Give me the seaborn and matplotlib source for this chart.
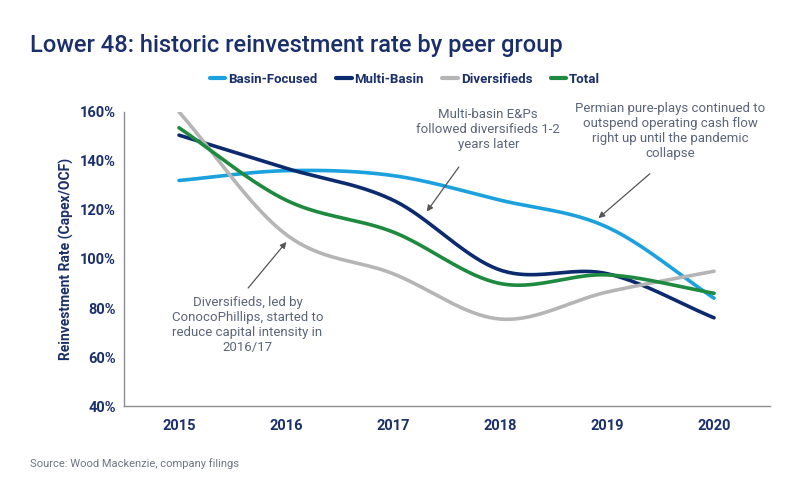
# reinvestment rate by peer group, lower 48 - smoothed lines like the excel original

import matplotlib
matplotlib.use("Agg")
import matplotlib.pyplot as plt
import seaborn as sns
import pandas as pd
import numpy as np

years = [2015, 2016, 2017, 2018, 2019, 2020]
basin_focused = [132, 136, 134, 124, 113, 84]
multi_basin = [150.5, 137, 124, 95.5, 94, 76]
diversifieds = [160, 110, 94, 75.5, 86.5, 95]
total = [153.5, 124, 111, 90, 93.5, 86]

series_names = ["Basin-Focused", "Multi-Basin", "Diversifieds", "Total"]
colors = ["#1ba1de", "#0c2a6e", "#b5b5b5", "#1d8a3f"]
y_ticks = [40, 60, 80, 100, 120, 140, 160]


def smooth(xs, ys, n=40):
    # catmull-rom so the curve passes through every point (like excel smoothing)
    xs = np.asarray(xs, float)
    ys = np.asarray(ys, float)
    px = np.concatenate([[2 * xs[0] - xs[1]], xs, [2 * xs[-1] - xs[-2]]])
    py = np.concatenate([[2 * ys[0] - ys[1]], ys, [2 * ys[-1] - ys[-2]]])
    out_x, out_y = [], []
    t = np.linspace(0, 1, n)
    for i in range(1, len(px) - 2):
        for arr, out in ((px, out_x), (py, out_y)):
            p0, p1, p2, p3 = arr[i - 1], arr[i], arr[i + 1], arr[i + 2]
            out.extend(0.5 * ((2 * p1) + (-p0 + p2) * t
                              + (2 * p0 - 5 * p1 + 4 * p2 - p3) * t ** 2
                              + (-p0 + 3 * p1 - 3 * p2 + p3) * t ** 3))
    return out_x, out_y


frames = []
for name, vals in zip(series_names, [basin_focused, multi_basin, diversifieds, total]):
    sx, sy = smooth(years, vals)
    frames.append(pd.DataFrame({"year": sx, "rate": sy, "group": name}))
df = pd.concat(frames, ignore_index=True)

sns.set_style("white")
plt.rcParams["font.family"] = ["Roboto", "DejaVu Sans"]

navy = "#1b2f6b"
note = "#5b6579"

fig = plt.figure(figsize=(8, 4.8), dpi=100)
ax = fig.add_axes([0.155, 0.154, 0.8075, 0.613])

sns.lineplot(data=df, x="year", y="rate", hue="group", palette=colors,
             hue_order=series_names, linewidth=2.6, sort=False,
             estimator=None, ax=ax, legend=False)

ax.set_xlim(2014.486, 2020.523)
ax.set_ylim(40, 160)
ax.set_xticks(years)
ax.set_xticklabels([str(y) for y in years])
ax.set_yticks(y_ticks)
ax.set_yticklabels([f"{v}%" for v in y_ticks])
ax.tick_params(axis="both", length=0, labelsize=10.5, labelcolor=navy, pad=6)
ax.tick_params(axis="x", pad=9)
for lab in ax.get_xticklabels() + ax.get_yticklabels():
    lab.set_fontweight("bold")
ax.set_xlabel("")
ax.set_ylabel("Reinvestment Rate (Capex/OCF)", color=navy, fontsize=10,
              fontweight="bold", labelpad=4)
for side in ["top", "right"]:
    ax.spines[side].set_visible(False)
for side in ["left", "bottom"]:
    ax.spines[side].set_color("#8c8c8c")
    ax.spines[side].set_linewidth(1)

# legend
handles = [plt.Line2D([], [], color=c, lw=3) for c in colors]
fig.legend(handles, series_names, loc="center", bbox_to_anchor=(0.506, 0.835),
           ncol=4, frameon=False, handlelength=1.2, handletextpad=0.2,
           columnspacing=1.4, prop={"size": 9.5, "weight": "bold"},
           labelcolor=navy)

# annotations
arrow = dict(arrowstyle="-|>", color="#555555", lw=0.9, mutation_scale=9)
ax.annotate("", xy=(2017.30, 118.4), xytext=(2017.63, 138.4), arrowprops=arrow)
ax.text(2017.89, 152.6, "Multi-basin E&Ps\nfollowed diversifieds 1-2\nyears later",
        ha="center", va="center", fontsize=9.5, color=note, linespacing=1.2)

ax.annotate("", xy=(2018.90, 115.9), xytext=(2019.42, 135.5), arrowprops=arrow)
ax.text(2019.59, 152.2, "Permian pure-plays continued to\noutspend operating cash flow\n"
        "right up until the pandemic\ncollapse",
        ha="center", va="center", fontsize=9.5, color=note, linespacing=1.2,
        clip_on=False)

ax.annotate("", xy=(2016.02, 107.8), xytext=(2015.63, 87.3), arrowprops=arrow)
ax.text(2015.64, 73.1, "Diversifieds, led by\nConocoPhillips, started to\n"
        "reduce capital intensity in\n2016/17",
        ha="center", va="center", fontsize=9.5, color=note, linespacing=1.2)

fig.text(0.0375, 0.906, "Lower 48: historic reinvestment rate by peer group",
         fontsize=17, color=navy, va="center", ha="left", fontweight="medium")
fig.text(0.0375, 0.035, "Source: Wood Mackenzie, company filings",
         fontsize=8, color="#6e7481", va="center", ha="left")

fig.savefig("out.png", dpi=100, facecolor="white")
